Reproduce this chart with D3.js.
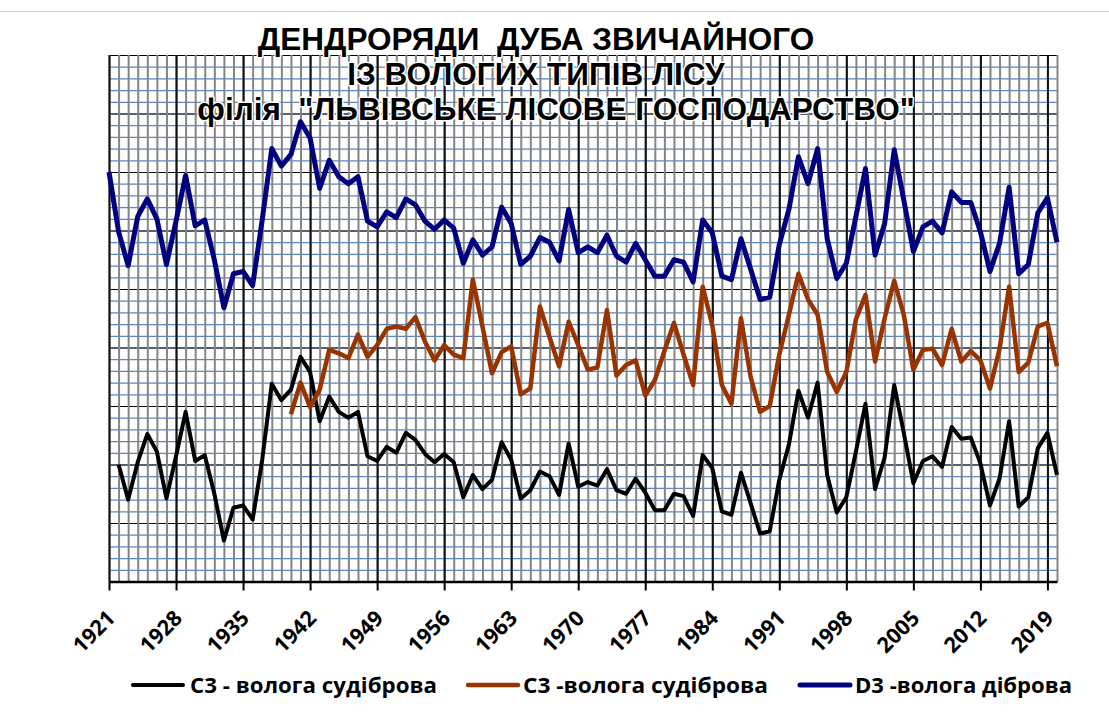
<!DOCTYPE html>
<html>
<head>
<meta charset="utf-8">
<script src="https://cdn.jsdelivr.net/npm/d3@7"></script>
<style>
	body { margin: 0; background: #fff; }
	svg { display: block; }
	.title { font-family: "Liberation Sans", Arial, sans-serif; font-weight: bold; font-size: 31.5px; fill: #000;
		stroke: #fff; stroke-width: 3px; paint-order: stroke; stroke-linejoin: round; white-space: pre; }
	.tick-label { font-family: "Open Sans", "Noto Sans", sans-serif; font-weight: bold; font-size: 21.5px; fill: #000; }
	.legend-labels { font-family: "Open Sans", "Noto Sans", sans-serif; font-weight: bold; font-size: 20.5px; fill: #000; }
</style>
</head>
<body>
<svg id="viz" width="1109" height="713"></svg>
<script>

// years on the x axis
const years = d3.range(1921, 2021);

// labelled years (every 7th)
const tickYears = d3.range(1921, 2021, 7);

// D3 - волога діброва (blue), 1921-2020
const seriesD3 = [
	350, 299, 270, 312, 327, 310, 271, 308, 347, 304,
	309, 275, 234, 263, 265, 253, 309, 370, 355, 365,
	393, 379, 336, 360, 346, 340, 346, 308, 303, 316,
	311, 327, 322, 308, 301, 309, 302, 272, 292, 279,
	286, 320, 306, 271, 278, 294, 290, 274, 318, 281,
	286, 281, 296, 278, 273, 289, 275, 261, 261, 275,
	273, 256, 309, 298, 261, 258, 293, 267, 241, 243,
	288, 318, 363, 340, 370, 293, 259, 272, 312, 353,
	279, 306, 369, 326, 282, 303, 308, 298, 333, 324,
	324, 299, 265, 289, 337, 263, 271, 315, 328, 290
];

// C3 - волога судіброва (brown), starts 1940
const seriesC3b = [
	null, null, null, null, null, null, null, null, null, null,
	null, null, null, null, null, null, null, null, null, 143,
	170, 149, 164, 198, 195, 191, 211, 192, 202, 216,
	218, 216, 226, 205, 189, 202, 194, 191, 258, 218,
	178, 196, 201, 160, 165, 235, 209, 184, 222, 202,
	181, 183, 232, 176, 185, 189, 159, 172, 197, 221,
	194, 168, 252, 219, 168, 152, 225, 175, 145, 150,
	194, 228, 263, 241, 228, 179, 162, 179, 224, 245,
	188, 225, 257, 228, 181, 198, 199, 185, 216, 188,
	197, 189, 165, 199, 252, 179, 187, 218, 221, 184
];

// C3 - волога судіброва (black), starts 1922
const seriesC3a = [
	null, 100, 70, 102, 126, 111, 71, 107, 145, 103,
	108, 75, 35, 63, 65, 53, 104, 169, 155, 164,
	192, 179, 137, 158, 145, 140, 145, 107, 103, 115,
	110, 127, 121, 109, 102, 109, 102, 72, 91, 79,
	87, 119, 104, 71, 78, 94, 90, 74, 118, 81,
	85, 82, 96, 78, 75, 88, 76, 61, 61, 75,
	73, 56, 108, 97, 60, 57, 93, 67, 41, 43,
	87, 117, 163, 140, 170, 91, 59, 72, 111, 152,
	79, 106, 168, 127, 84, 103, 107, 98, 132, 122,
	123, 101, 65, 88, 137, 64, 72, 114, 127, 91
];

const legendNames = ["С3 - волога судіброва", "С3 -волога судіброва", "D3 -волога діброва"];

let svg = d3.select("svg#viz");

const margin = { top: 55, left: 109, right: 52, bottom: 131.5 };
let bounds = svg.node().getBoundingClientRect();
let plotWidth = bounds.width - margin.left - margin.right;
let plotHeight = bounds.height - margin.top - margin.bottom;

let x = d3.scaleLinear().domain([1921, 2020]).range([0, plotWidth]);
let y = d3.scaleLinear().domain([0, 450]).range([plotHeight, 0]);

// faint chart border at the top
svg.append("line")
	.attr("x1", 0).attr("x2", bounds.width)
	.attr("y1", 11.5).attr("y2", 11.5)
	.attr("stroke", "#d0d0d0").attr("stroke-width", 1);

let plot = svg.append("g").attr("transform", `translate(${margin.left}, ${margin.top})`);

// minor horizontal grid (blue)
let yMinor = d3.axisLeft(y).tickValues(d3.range(0, 451, 10)).tickSize(-plotWidth).tickFormat("");
let yMinorG = plot.append("g").call(yMinor);
yMinorG.select(".domain").remove();
yMinorG.selectAll("line").attr("stroke", "#5a86c4").attr("stroke-width", 1.2);

// major horizontal grid (black)
let yMajor = d3.axisLeft(y).tickValues(d3.range(0, 451, 50)).tickSize(-plotWidth).tickFormat("");
let yMajorG = plot.append("g").call(yMajor);
yMajorG.select(".domain").remove();
yMajorG.selectAll("line").attr("stroke", "#000").attr("stroke-width", 1);

// minor vertical grid (gray) every year
let xMinor = d3.axisBottom(x).tickValues(years).tickSize(-plotHeight).tickFormat("");
let xMinorG = plot.append("g").attr("transform", `translate(0, ${plotHeight})`).call(xMinor);
xMinorG.select(".domain").remove();
xMinorG.selectAll("line").attr("stroke", "#858585").attr("stroke-width", 2);

// major vertical grid (black) every 7 years
let xMajor = d3.axisBottom(x).tickValues(tickYears).tickSize(-plotHeight).tickFormat("");
let xMajorG = plot.append("g").attr("transform", `translate(0, ${plotHeight})`).call(xMajor);
xMajorG.select(".domain").remove();
xMajorG.selectAll("line").attr("stroke", "#111").attr("stroke-width", 2);

// x axis with outer ticks and rotated labels
let xAxis = d3.axisBottom(x).tickValues(tickYears).tickSize(9).tickSizeOuter(0).tickFormat(d3.format("d"));
let xGroup = plot.append("g").attr("transform", `translate(0, ${plotHeight})`).call(xAxis);
xGroup.select(".domain").attr("stroke", "#000").attr("stroke-width", 2.5);
xGroup.selectAll(".tick line").attr("stroke", "#000").attr("stroke-width", 2);
xGroup.selectAll(".tick text")
	.attr("class", "tick-label")
	.attr("text-anchor", "end")
	.attr("y", 0).attr("dy", 0)
	.attr("transform", "translate(7, 38) rotate(-45)");

// series lines
let line = d3.line()
	.defined(d => d.v !== null)
	.x(d => x(d.year))
	.y(d => y(d.v));

let series = [
	{ values: seriesC3a, color: "#000000", width: 4 },
	{ values: seriesC3b, color: "#993300", width: 4.5 },
	{ values: seriesD3, color: "#000080", width: 5 }
];

plot.selectAll("path.series")
	.data(series)
	.enter().append("path")
	.attr("class", "series")
	.attr("fill", "none")
	.attr("stroke", d => d.color)
	.attr("stroke-width", d => d.width)
	.attr("stroke-linejoin", "round")
	.attr("d", d => line(d.values.map((v, i) => ({ year: years[i], v: v }))));

// title
let titleLines = [
	{ text: "ДЕНДРОРЯДИ  ДУБА ЗВИЧАЙНОГО", cx: 536, y: 50 },
	{ text: "ІЗ ВОЛОГИХ ТИПІВ ЛІСУ", cx: 536, y: 85 },
	{ text: "філія  \"ЛЬВІВСЬКЕ ЛІСОВЕ ГОСПОДАРСТВО\"", cx: 556, y: 120 }
];
svg.selectAll("text.title")
	.data(titleLines)
	.enter().append("text")
	.attr("class", "title")
	.attr("x", d => d.cx)
	.attr("y", d => d.y)
	.attr("text-anchor", "middle")
	.text(d => d.text);

// legend
let legendX = [133, 468, 800];
let legendW = [247, 245, 217];
let legend = svg.selectAll("g.legend")
	.data(series)
	.enter().append("g")
	.attr("class", "legend")
	.attr("transform", (d, i) => `translate(${legendX[i]}, 685)`);

legend.append("line")
	.attr("x1", 0).attr("x2", 50)
	.attr("stroke", d => d.color)
	.attr("stroke-width", d => d.width)
	.attr("stroke-linecap", "round");

legend.append("text")
	.attr("class", "legend-labels")
	.attr("x", (d, i) => i == 0 ? 57 : 55)
	.attr("y", 7.5)
	.attr("textLength", (d, i) => legendW[i])
	.attr("lengthAdjust", "spacingAndGlyphs")
	.text((d, i) => legendNames[i]);

</script>
</body>
</html>
